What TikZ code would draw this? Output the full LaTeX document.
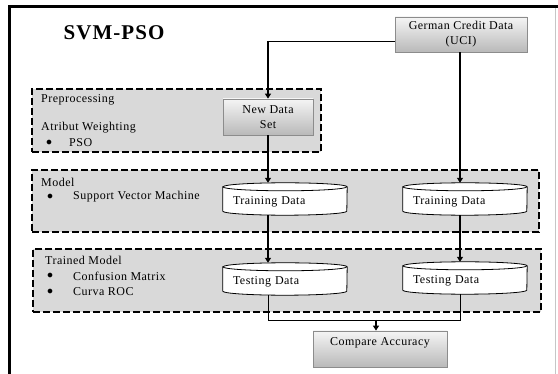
\documentclass[tikz,border=0pt]{standalone}
\usepackage{fontspec}
\setmainfont{Liberation Serif}
\newfontfamily\diagfont[LetterSpace=4]{Liberation Serif}
\newfontfamily\headfont[LetterSpace=5]{Liberation Serif}
\usetikzlibrary{arrows.meta,backgrounds}

\definecolor{panelgrey}{HTML}{D9D9D9}
\definecolor{boxedge}{HTML}{8C8C8C}

\tikzset{
  x=1pt, y=-1pt,
  every node/.style={font=\diagfont\fontsize{12}{15}\selectfont},
  procbox/.style={draw=boxedge, line width=0.8pt, top color=gray!8, bottom color=gray!55,
                  align=center, inner sep=0pt},
  stage/.style={draw=black, line width=1.6pt, dash pattern=on 7pt off 3pt,
                fill=panelgrey, inner sep=0pt},
  store/.style={inner xsep=10pt, inner ysep=0pt, minimum width=124pt, minimum height=32pt,
                text width=104pt, align=left, text height=11.5pt, text depth=0pt},
  label/.style={anchor=west, inner sep=0pt},
  flow/.style={line width=2pt, -{Triangle[width=6pt,length=5pt]}},
  thinflow/.style={line width=0.8pt},
}

% outline of a data store drawn behind its node
\newcommand{\datastore}[1]{%
  \path[draw=black, line width=0.8pt, fill=white]
    ([yshift=-4pt]#1.north west) -- ([yshift=4pt]#1.south west)
    arc[start angle=180, end angle=360, x radius=62pt, y radius=4pt]
    -- ([yshift=-4pt]#1.north east)
    arc[start angle=0, end angle=180, x radius=62pt, y radius=4pt] -- cycle;
  \draw[line width=0.8pt] ([yshift=-4pt]#1.north west)
    arc[start angle=180, end angle=360, x radius=62pt, y radius=4pt];
}

\begin{document}
\begin{tikzpicture}
\useasboundingbox (0,0) rectangle (558,374);

% outer frame
\draw[gray!45, line width=1pt] (555,7) -- (555,374);
\draw[black, line width=3pt] (9,374) -- (9,7) -- (558,7);

% title
\node[font=\headfont\fontsize{21}{24}\bfseries\selectfont] (title) at (114,33) {SVM-PSO};

% process boxes
\node[procbox, minimum width=132pt, minimum height=35pt] (german) at (461,34.5)
  {German Credit Data\\(UCI)};
\node[procbox, minimum width=90pt, minimum height=36pt] (newdata) at (268,117)
  {New Data\\Set};
\node[procbox, minimum width=134pt, minimum height=36pt, text height=6pt, text depth=12pt]
  (compare) at (380,349) {Compare Accuracy};

% data stores
\node[store] (train1) at (285,199) {Training Data};
\node[store] (train2) at (465,199) {Training Data};
\node[store] (test1)  at (285,279) {Testing Data};
\node[store] (test2)  at (465,278) {Testing Data};

\begin{scope}[on background layer]
  % stage panels
  \node[stage, minimum width=289pt, minimum height=63pt] (prep)    at (176.5,120.5) {};
  \node[stage, minimum width=507pt, minimum height=62pt] (model)   at (285.5,201)   {};
  \node[stage, minimum width=508pt, minimum height=63pt] (trained) at (287,280.5)   {};
  \datastore{train1}
  \datastore{train2}
  \datastore{test1}
  \datastore{test2}
\end{scope}

% stage labels
\node[label] (preplbl)   at (41,100) {Preprocessing};
\node[label] (weightlbl) at (41,128) {Atribut Weighting};
\node[label] (psob)      at (46,143) {$\bullet$};
\node[label] (psolbl)    at (69,143) {PSO};

\node[label] (modellbl)  at (41,182) {Model};
\node[label] (svmb)      at (47,197) {$\bullet$};
\node[label] (svmlbl)    at (73,197) {Support Vector Machine};

\node[label] (trlbl)     at (45,260) {Trained Model};
\node[label] (cmb)       at (47,276) {$\bullet$};
\node[label] (cmlbl)     at (73,276) {Confusion Matrix};
\node[label] (rocb)      at (47,292) {$\bullet$};
\node[label] (roclbl)    at (73,292) {Curva ROC};

% connectors
\coordinate (split) at (newdata.north |- 0,41);
\draw[thinflow] ([yshift=-6.5pt]german.west) -- (split);
\draw[flow] (split) -- (newdata.north);
\draw[flow] (newdata.south) -- (newdata.south |- train1.north);
\draw[flow] ([xshift=-1pt]german.south) -- ([xshift=-1pt]german.south |- train2.north);
\draw[flow] (newdata.south |- train1.south) -- (newdata.south |- test1.north);
\draw[flow] ([xshift=-1pt]german.south |- train2.south) -- ([xshift=-1pt]german.south |- test2.north);

\coordinate (join) at (0,320);
\draw[thinflow] (newdata.south |- test1.south) |- ([xshift=-1pt]german.south |- join)
  -- ([xshift=-1pt]german.south |- test2.south);
\draw[line width=1.4pt, -{Triangle[width=6pt,length=5pt]}]
  ([xshift=-4pt]compare.north |- join) -- ([xshift=-4pt]compare.north);
\end{tikzpicture}
\end{document}
